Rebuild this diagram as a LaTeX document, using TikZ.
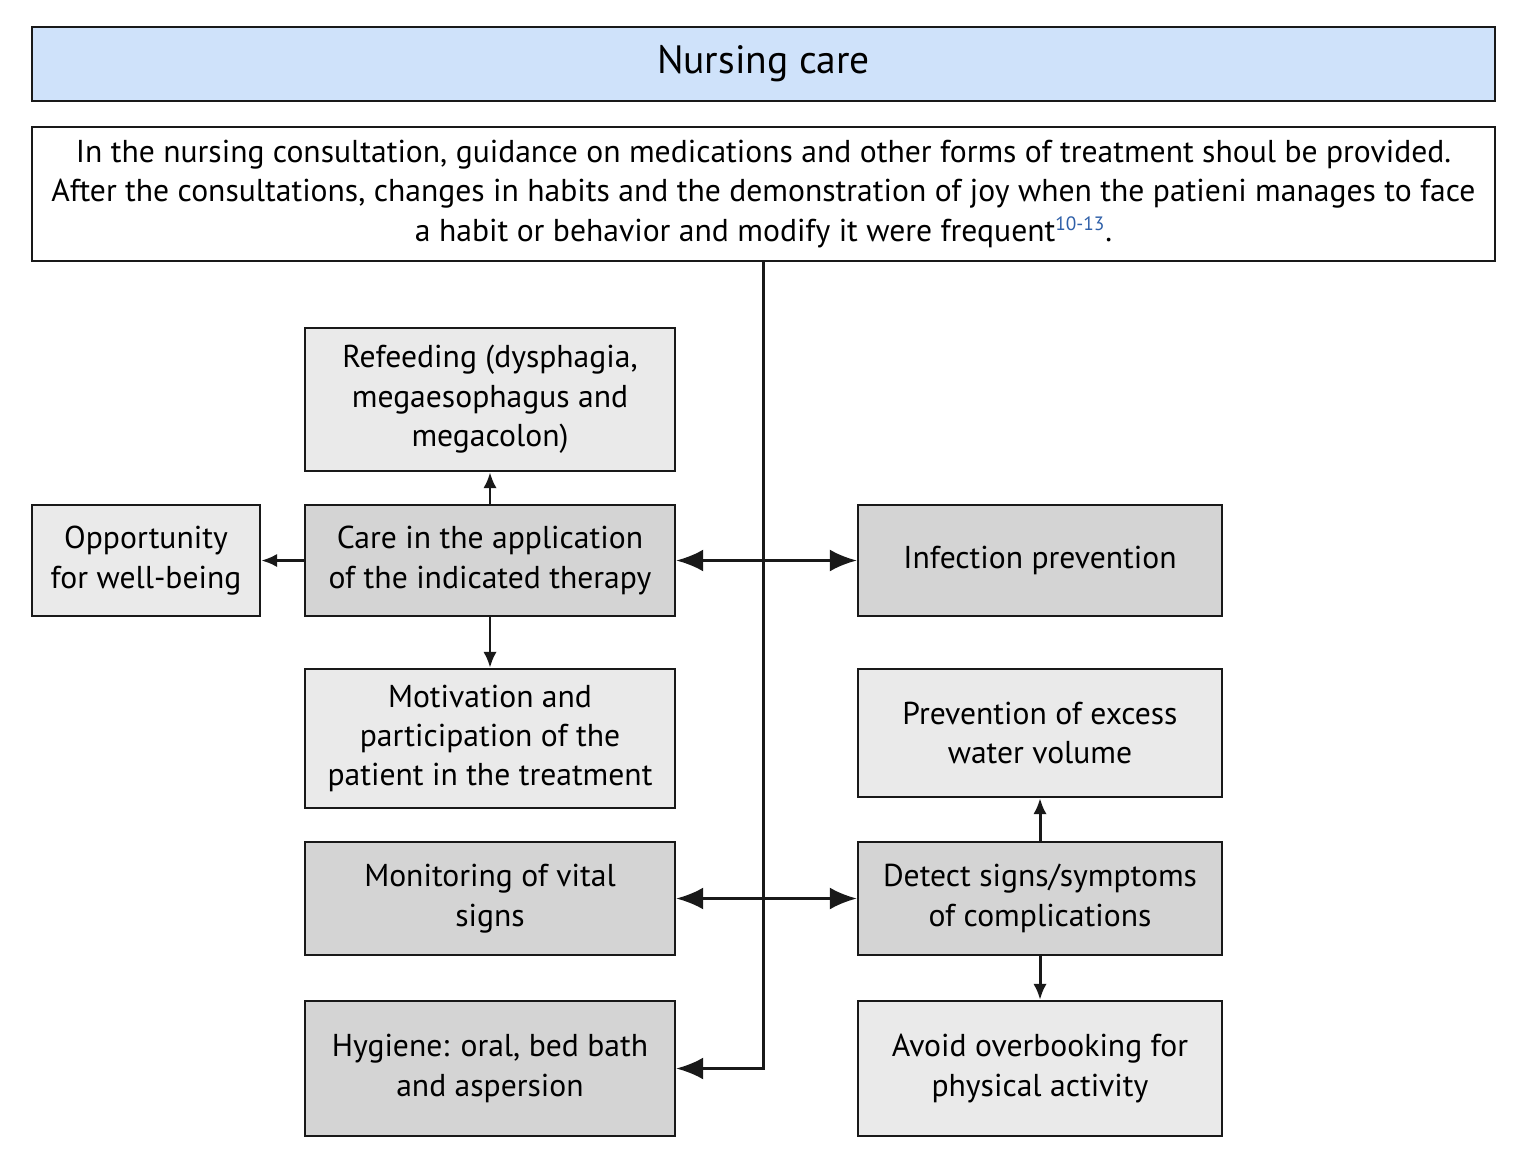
\documentclass[tikz,border=0pt]{standalone}
\usepackage{fontspec}
\setmainfont{PT Sans}
\usepackage{tikz}
\usepackage{xcolor}
\usetikzlibrary{arrows.meta}
\definecolor{titleblue}{RGB}{207,226,250}
\definecolor{lightbox}{RGB}{234,234,234}
\definecolor{darkbox}{RGB}{212,212,212}
\definecolor{refblue}{RGB}{46,95,168}

\begin{document}
\begin{tikzpicture}[x=0.02cm,y=-0.02cm]%
  \tikzstyle{boxn}=[rectangle,draw=black!90,line width=1.4pt,align=center,inner sep=2pt,
    font=\fontsize{18}{22.4}\selectfont]
  \tikzstyle{boxl}=[boxn,fill=lightbox]
  \tikzstyle{boxd}=[boxn,fill=darkbox]
  \tikzstyle{bigarr}=[line width=1.7pt,draw=black!90,{Latex[length=0.54cm,width=0.44cm]}-{Latex[length=0.54cm,width=0.44cm]}]
  \tikzstyle{oneway}=[line width=1.7pt,draw=black!90,-{Latex[length=0.54cm,width=0.44cm]}]
  \tikzstyle{smallarr}=[line width=1.7pt,draw=black!90,-{Latex[length=0.32cm,width=0.27cm]}]
  \useasboundingbox (0,0) rectangle (1525,1173);
  \node(title)[boxn,fill=titleblue,minimum width=29.26cm,minimum height=1.48cm,
    font=\fontsize{22.5}{27}\selectfont] at (763.5,64) {Nursing care};
  \node(intro)[boxn,fill=white,minimum width=29.26cm,minimum height=2.68cm] at (763.5,194)
    {In the nursing consultation, guidance on medications and other forms of treatment shoul be provided.\\
     After the consultations, changes in habits and the demonstration of joy when the patieni manages to face\\
     a habit or behavior and modify it were frequent\textsuperscript{\textcolor{refblue}{\fontsize{11}{11}\selectfont 10-13}}.};
  \node(refeed)[boxl,minimum width=7.4cm,minimum height=2.86cm] at (490,399.5)
    {Refeeding (dysphagia,\\ megaesophagus and\\ megacolon)};
  \node(opport)[boxl,minimum width=4.56cm,minimum height=2.22cm] at (146,560.5)
    {Opportunity\\ for well-being};
  \node(care)[boxd,minimum width=7.4cm,minimum height=2.22cm] at (490,560.5)
    {Care in the application\\ of the indicated therapy};
  \node(infect)[boxd,minimum width=7.28cm,minimum height=2.22cm] at (1040,560.5)
    {Infection prevention};
  \node(motiv)[boxl,minimum width=7.4cm,minimum height=2.78cm] at (490,738.5)
    {Motivation and\\ participation of the\\ patient in the treatment};
  \node(water)[boxl,minimum width=7.28cm,minimum height=2.56cm] at (1040,733)
    {Prevention of excess\\ water volume};
  \node(vital)[boxd,minimum width=7.4cm,minimum height=2.26cm] at (490,898.5)
    {Monitoring of vital\\ signs};
  \node(detect)[boxd,minimum width=7.28cm,minimum height=2.26cm] at (1040,898.5)
    {Detect signs/symptoms\\ of complications};
  \node(hygiene)[boxd,minimum width=7.4cm,minimum height=2.7cm] at (490,1068.5)
    {Hygiene: oral, bed bath\\ and aspersion};
  \node(activity)[boxl,minimum width=7.28cm,minimum height=2.7cm] at (1040,1068.5)
    {Avoid overbooking for\\ physical activity};
  \draw[oneway] (intro.south) |- (hygiene.east);
  \draw[bigarr] (care.east) -- (infect.west);
  \draw[bigarr] (vital.east) -- (detect.west);
  \draw[smallarr] (care.north) -- (refeed.south);
  \draw[smallarr] (care.west) -- (opport.east);
  \draw[smallarr] (care.south) -- (motiv.north);
  \draw[smallarr] (detect.north) -- (water.south);
  \draw[smallarr] (detect.south) -- (activity.north);
\end{tikzpicture}
\end{document}
